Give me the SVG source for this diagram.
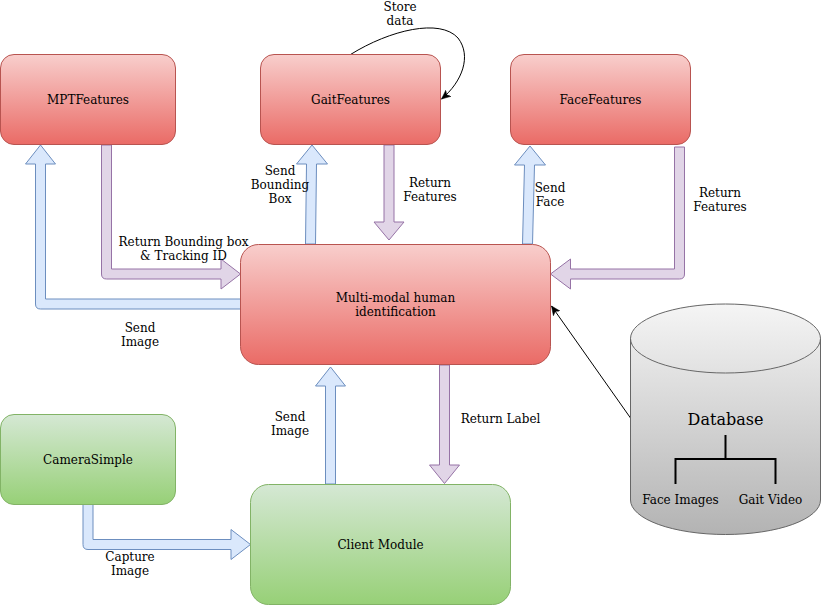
<svg xmlns="http://www.w3.org/2000/svg" width="821" height="605" viewBox="0 0 821 605">
<defs>
<linearGradient id="gRed" x1="0" y1="0" x2="0" y2="1"><stop offset="0" stop-color="#f8cecc"/><stop offset="1" stop-color="#ea6b66"/></linearGradient>
<linearGradient id="gGreen" x1="0" y1="0" x2="0" y2="1"><stop offset="0" stop-color="#d5e8d4"/><stop offset="1" stop-color="#97d077"/></linearGradient>
<linearGradient id="gGray" x1="0" y1="0" x2="0" y2="1"><stop offset="0" stop-color="#f5f5f5"/><stop offset="1" stop-color="#b3b3b3"/></linearGradient>
<marker id="classic" viewBox="0 0 10 10" refX="9" refY="5" markerWidth="10" markerHeight="10" markerUnits="userSpaceOnUse" orient="auto">
<path d="M0,1 L9,5 L0,9 L2.5,5 Z" fill="#000" stroke="#000" stroke-width="0.5"/>
</marker>
<style>
.red{fill:url(#gRed);stroke:#b85450;stroke-width:1}
.green{fill:url(#gGreen);stroke:#82b366;stroke-width:1}
.blue{fill:#dae8fc;stroke:#6c8ebf;stroke-width:1;stroke-linejoin:miter}
.purple{fill:#e1d5e7;stroke:#9673a6;stroke-width:1;stroke-linejoin:miter}
text{font-family:"DejaVu Serif","Liberation Serif",serif;font-size:12px;fill:#000;text-anchor:middle}
.thin{fill:none;stroke:#000;stroke-width:1}
</style>
</defs>
<rect width="821" height="605" fill="#fff"/>
<g id="connectors">
<path class="blue" d="M240.5,299 L45.5,299 L45.5,164 L55.5,164 L40.5,145 L25.5,164 L35.5,164 L35.5,304 Q35.5,309 40.5,309 L240.5,309 Z"/>
<path class="purple" d="M101.5,145 L101.5,274 Q101.5,279 106.5,279 L221,279 L221,289 L240.5,274 L221,259 L221,269 L111.5,269 L111.5,145 Z"/>
<path class="blue" d="M305.5,244 L306.5,164 L296.5,164 L312,145 L327.5,164 L316.5,164 L315.5,244 Z"/>
<path class="purple" d="M384,145 L384,222 L374,222 L389,240 L404,222 L394,222 L394,145 Z"/>
<path class="blue" d="M522.5,244 L524.5,165 L514.5,165 L530,146 L545.5,165 L534.5,165 L532.5,244 Z"/>
<path class="purple" d="M674.5,147 L674.5,269 L570.5,269 L570.5,259 L550.5,274 L570.5,289 L570.5,279 L679.5,279 Q684.5,279 684.5,274 L684.5,147 Z"/>
<path class="blue" d="M325.5,484 L325.5,386 L315.5,386 L330.5,367 L345.5,386 L335.5,386 L335.5,484 Z"/>
<path class="purple" d="M439.5,365 L439.5,465 L429.5,465 L444.5,483.5 L459.5,465 L449.5,465 L449.5,365 Z"/>
<path class="blue" d="M83,504.5 L83,544.5 Q83,549.5 88,549.5 L231,549.5 L231,559.5 L250.5,544.5 L231,529.5 L231,539.5 L93,539.5 L93,504.5 Z"/>
<path class="thin" d="M630.5,418 L551.5,306" marker-end="url(#classic)"/>
<path class="thin" d="M350.5,54.5 C390,30 440,18 458,38 C472,56 462,82 441.5,99" marker-end="url(#classic)"/>
<text x="400" y="11">Store</text>
<text x="400" y="25">data</text>
<text x="183.5" y="246">Return Bounding box</text>
<text x="183.5" y="260">&amp; Tracking ID</text>
<text x="140" y="332">Send</text>
<text x="140" y="346">Image</text>
<text x="280" y="175">Send</text>
<text x="280" y="189">Bounding</text>
<text x="280" y="203">Box</text>
<text x="430" y="187">Return</text>
<text x="430" y="201">Features</text>
<text x="550" y="192">Send</text>
<text x="550" y="206">Face</text>
<text x="720" y="197">Return</text>
<text x="720" y="211">Features</text>
<text x="290" y="421">Send</text>
<text x="290" y="435">Image</text>
<text x="500.5" y="423">Return Label</text>
<text x="130" y="561">Capture</text>
<text x="130" y="575">Image</text>
</g>
<g id="MPTFeatures">
<rect class="red" x="0.5" y="54.5" width="175" height="90" rx="13.5"/>
<text x="88" y="103.5">MPTFeatures</text>
</g>
<g id="GaitFeatures">
<rect class="red" x="260.5" y="54.5" width="180" height="90" rx="13.5"/>
<text x="350.5" y="103.5">GaitFeatures</text>
</g>
<g id="FaceFeatures">
<rect class="red" x="510.5" y="54.5" width="180" height="90" rx="13.5"/>
<text x="600.5" y="103.5">FaceFeatures</text>
</g>
<g id="MultiModal">
<rect class="red" x="240.5" y="244.5" width="310" height="120" rx="18"/>
<text x="395.5" y="301.5">Multi-modal human</text>
<text x="395.5" y="315.5">identification</text>
</g>
<g id="CameraSimple">
<rect class="green" x="0.5" y="414.5" width="175" height="90" rx="13.5"/>
<text x="88" y="463.5">CameraSimple</text>
</g>
<g id="ClientModule">
<rect class="green" x="250.5" y="484.5" width="260" height="120" rx="18"/>
<text x="380.5" y="548.5">Client Module</text>
</g>
<g id="Database">
<path d="M630.5,338.5 A95,34.5 0 0 1 820.5,338.5 L820.5,500 A95,34.5 0 0 1 630.5,500 Z" fill="url(#gGray)" stroke="#666" stroke-width="1"/>
<path d="M630.5,338.5 A95,34.5 0 0 0 820.5,338.5" fill="none" stroke="#666" stroke-width="1"/>
<text x="725.5" y="424.5" style="font-size:16px">Database</text>
<path d="M725.5,435 L725.5,459 M675.5,484 L675.5,459 L775.5,459 L775.5,484" fill="none" stroke="#000" stroke-width="2"/>
<text x="680.5" y="503.5">Face Images</text>
<text x="770.5" y="503.5">Gait Video</text>
</g>
</svg>
